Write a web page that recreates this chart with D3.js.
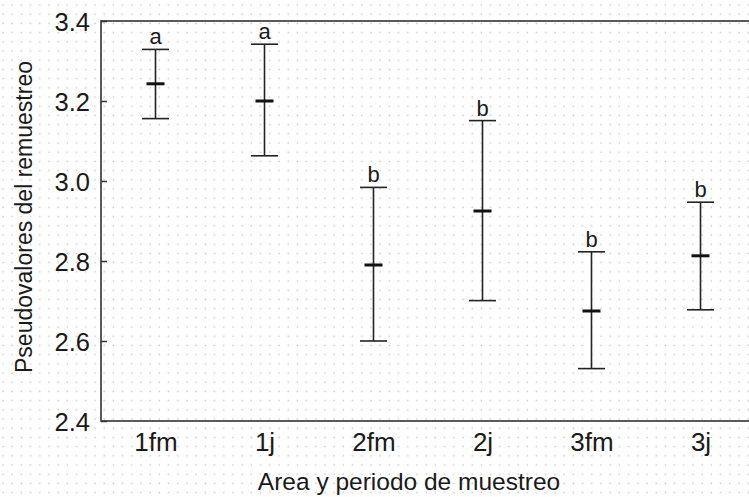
<!DOCTYPE html>
<html>
<head>
<meta charset="utf-8">
<script src="https://cdn.jsdelivr.net/npm/d3@7"></script>
<style>
  html, body { margin: 0; padding: 0; background: #fff; }
  svg { display: block; }
  text { font-family: "Liberation Sans", Arial, sans-serif; fill: #1a1a1a; }
</style>
</head>
<body>
<svg id="chart" width="749" height="497"></svg>
<script>
// Groups: sampling area and period
const groups = ["1fm", "1j", "2fm", "2j", "3fm", "3j"];
// Mean pseudovalue per group
const means = [3.243, 3.200, 2.790, 2.925, 2.675, 2.813];
// Upper and lower interval limits
const upper = [3.329, 3.342, 2.984, 3.151, 2.823, 2.947];
const lower = [3.156, 3.063, 2.600, 2.701, 2.531, 2.678];
// Significance letters
const letters = ["a", "a", "b", "b", "b", "b"];
// Y axis ticks
const yTicks = [2.4, 2.6, 2.8, 3.0, 3.2, 3.4];

const svg = d3.select("#chart");
const W = 749, H = 497;
const margin = { left: 101, top: 21, right: -6, bottom: 76 };
const plotRight = W - margin.right;
const plotBottom = H - margin.bottom;

// faint dotted paper texture
const defs = svg.append("defs");
const pat = defs.append("pattern")
  .attr("id", "dots").attr("width", 9.2).attr("height", 9.2)
  .attr("patternUnits", "userSpaceOnUse");
pat.append("circle").attr("cx", 3).attr("cy", 5).attr("r", 0.8).attr("fill", "#c8c8c8");
svg.append("rect").attr("width", W).attr("height", H).attr("fill", "url(#dots)");

const x = d3.scalePoint().domain(groups).range([margin.left, plotRight]).padding(0.5);
const y = d3.scaleLinear().domain([2.4, 3.4]).range([plotBottom, margin.top]);

// frame
svg.append("rect")
  .attr("x", margin.left).attr("y", margin.top)
  .attr("width", plotRight - margin.left).attr("height", plotBottom - margin.top)
  .attr("fill", "none").attr("stroke", "#333").attr("stroke-width", 1.6);

// y axis: inward ticks, large labels
const yAxis = svg.append("g")
  .attr("transform", `translate(${margin.left},0)`)
  .call(d3.axisLeft(y).tickValues(yTicks).tickFormat(d3.format(".1f")).tickSize(-6).tickPadding(11));
yAxis.select(".domain").remove();
yAxis.selectAll(".tick line").attr("stroke", "#333").attr("stroke-width", 1.5);
yAxis.selectAll(".tick text")
  .attr("font-size", 25.5).attr("fill", "#1a1a1a")
  .attr("font-family", "Liberation Sans, Arial, sans-serif")
  .attr("dy", "0.36em");

// x axis labels
const xAxis = svg.append("g")
  .attr("transform", `translate(0,${plotBottom})`)
  .call(d3.axisBottom(x).tickSize(0).tickPadding(12));
xAxis.select(".domain").remove();
xAxis.selectAll(".tick text")
  .attr("font-size", 26).attr("fill", "#1a1a1a")
  .attr("font-family", "Liberation Sans, Arial, sans-serif")
  .attr("dy", "0.71em");

// error bars
const bars = svg.append("g").selectAll("g")
  .data(groups.map((g, i) => ({ g, m: means[i], hi: upper[i], lo: lower[i], l: letters[i] })))
  .join("g");

const capHalf = 13.5, meanHalf = 9;
bars.append("line")
  .attr("x1", d => x(d.g)).attr("x2", d => x(d.g))
  .attr("y1", d => y(d.hi)).attr("y2", d => y(d.lo))
  .attr("stroke", "#222").attr("stroke-width", 1.6);
bars.append("line")
  .attr("x1", d => x(d.g) - capHalf).attr("x2", d => x(d.g) + capHalf)
  .attr("y1", d => y(d.hi)).attr("y2", d => y(d.hi))
  .attr("stroke", "#222").attr("stroke-width", 1.6);
bars.append("line")
  .attr("x1", d => x(d.g) - capHalf).attr("x2", d => x(d.g) + capHalf)
  .attr("y1", d => y(d.lo)).attr("y2", d => y(d.lo))
  .attr("stroke", "#222").attr("stroke-width", 1.6);
bars.append("line")
  .attr("x1", d => x(d.g) - meanHalf).attr("x2", d => x(d.g) + meanHalf)
  .attr("y1", d => y(d.m)).attr("y2", d => y(d.m))
  .attr("stroke", "#111").attr("stroke-width", 3);
bars.append("text")
  .attr("x", d => x(d.g)).attr("y", d => y(d.hi) - 5)
  .attr("text-anchor", "middle").attr("font-size", 22)
  .text(d => d.l);

// axis titles
svg.append("text")
  .attr("x", 409).attr("y", 490)
  .attr("text-anchor", "middle").attr("font-size", 24.5)
  .text("Area y periodo de muestreo");
svg.append("text")
  .attr("transform", "translate(32,217) rotate(-90)")
  .attr("text-anchor", "middle").attr("font-size", 23)
  .text("Pseudovalores del remuestreo");
</script>
</body>
</html>
